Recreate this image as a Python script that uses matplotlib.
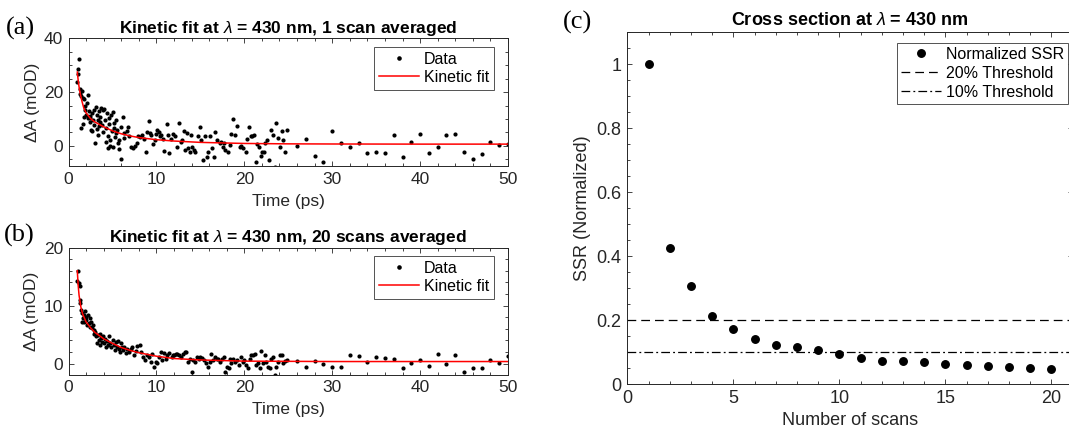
import numpy as np
import matplotlib
matplotlib.use("Agg")
import matplotlib.pyplot as plt
from matplotlib.ticker import MultipleLocator

plt.rcParams["font.family"] = ["Liberation Sans", "DejaVu Sans"]
plt.rcParams["mathtext.fontset"] = "custom"
plt.rcParams["mathtext.rm"] = "Liberation Sans"
plt.rcParams["mathtext.it"] = "Liberation Sans:italic"
plt.rcParams["mathtext.bf"] = "Liberation Sans:bold"

# ---------------- data ----------------
# (a) single scan: time (ps) and dA (mOD)
t_a = [1.15, 1.07, 1.0, 1.07, 1.34, 1.26, 1.45, 1.57, 1.68, 1.41, 1.6, 1.79, 1.91, 1.72, 1.95, 1.83,
       2.18, 2.1, 2.29, 2.18, 2.41, 2.48, 2.56, 2.67, 2.79, 2.86, 2.94, 2.71, 2.98, 2.48,
       3.13, 3.24, 3.32, 3.44, 3.51, 3.63, 3.74, 3.82, 3.89, 3.55, 3.21, 3.93, 3.4,
       4.01, 4.2, 4.31, 4.39, 4.47, 4.58, 4.66, 4.73, 4.85, 4.92, 4.77, 4.24, 4.54,
       5.08, 5.15, 5.23, 5.34, 5.46, 5.53, 5.61, 5.73, 5.8, 5.92, 5.95, 5.38, 5.08,
       6.15, 6.26, 6.37, 6.6, 6.76, 6.91,
       7.14, 7.33, 7.56, 7.75, 7.9,
       8.13, 8.4, 8.59, 8.78, 8.97,
       9.16, 9.27, 9.43, 9.62, 9.81, 9.96,
       10.1, 10.27, 10.42, 10.57, 10.73, 10.92,
       11.15, 11.3, 11.45, 11.65, 11.84,
       12.1, 12.33, 12.6, 12.79, 12.94,
       13.09, 13.28, 13.44, 13.63, 13.82, 13.93,
       14.08, 14.24, 14.43, 14.69, 14.92,
       15.08, 15.34, 15.53, 15.76, 15.92,
       16.15, 16.3, 16.53, 16.72, 16.91,
       17.18, 17.37, 17.56, 17.67, 17.82,
       18.13, 18.32, 18.51, 18.7, 18.89,
       19.2, 19.47, 19.66, 19.81,
       20.15, 20.34, 20.5, 20.73, 20.88,
       21.07, 21.34, 21.49, 21.64, 21.87,
       22.06, 22.25, 22.4, 22.6, 22.79,
       23.09, 23.28, 23.47, 23.63, 23.78,
       24.05, 24.24, 24.43, 24.62, 24.81,
       26, 27, 28, 29, 30, 31, 32, 33, 34, 35, 36, 37, 38, 39, 40,
       41, 42, 43, 44, 45, 46, 47, 48, 49, 50]
dA_a = [32.3, 28.8, 23.8, 26.6, 21.3, 19.4, 18.5, 20.4, 17.8, 6.6, 8.3, 17.3, 13.5, 10.8, 11.6, 14.8,
        19.1, 16.0, 12.9, 10.4, 11.3, 8.75, 6.0, 12.3, 9.75, 7.9, 13.5, 5.4, 1.25, 10.4,
        14.5, 11.6, 9.75, 7.25, 12.9, 10.8, 14.1, 7.9, 5.0, 8.75, 6.25, 13.5, 4.1,
        13.75, 9.5, 6.6, 12.25, 3.5, 10.4, 8.25, 0.1, 11.6, 5.4, 2.25, 1.6, -0.9,
        12.5, 8.5, 6.6, 3.25, 9.75, 6.0, 1.25, -1.25, 2.25, 6.9, -5.0, 4.75, -0.25,
        10.75, 4.75, 2.9, 5.4, 7.0, 3.5,
        -0.25, -0.9, 0.1, 1.25, 3.5,
        3.25, 4.1, 2.5, -2.1, 5.0,
        9.1, 4.75, 4.1, 0.75, 2.25, 4.5,
        6.0, 5.0, 3.75, 4.1, 2.5, -1.75,
        8.25, 4.1, -2.75, 2.5, 4.5,
        3.5, -0.25, 8.5, 1.6, 2.25,
        5.4, -1.5, 4.75, -0.9, -2.1, 4.1,
        -0.25, -1.5, -2.1, 3.5, 7.0,
        2.25, -5.25, 3.5, -4.0, -2.1,
        3.75, -0.9, -4.0, 5.0, 2.25,
        1.25, 1.6, -0.25, 1.0, -1.5,
        -2.4, 0.4, 4.4, 10.0, 4.1,
        7.25, -0.25, 0.0, -0.9,
        -2.1, 2.5, 6.9, 3.5, 3.75,
        4.1, -6.1, 0.75, -0.25, -3.75,
        -2.1, -2.1, 1.25, 2.25, -5.25,
        6.0, 4.1, -7.75, 8.5, 2.9,
        -0.25, 5.4, 2.25, -2.1, 6.0,
        0.0, 2.5, -3.6, -6.1, 5.4, 0.9, -0.25, 1.25, -2.5, -2.1, -2.6, 4.1, -4.0, 1.4, 4.4,
        -2.5, -0.5, 4.0, 4.6, -2.1, -5.0, -3.1, 1.4, 0.5, 0.6]

# (a) kinetic fit
tfit_a = [1.0, 1.1, 1.2, 1.3, 1.5, 1.75, 2.0, 2.5, 3.0, 3.5, 4.0, 5.0, 6.0, 7.0, 8.0,
          10.0, 12.0, 15.0, 20.0, 25.0, 30.0, 40.0, 50.0]
fit_a = [27.5, 24.5, 22.0, 20.0, 17.0, 14.0, 12.3, 10.2, 8.9, 8.0, 7.1, 5.6, 4.5, 3.7, 3.1,
         2.3, 1.8, 1.3, 0.9, 0.75, 0.7, 0.65, 0.65]

# (b) 20 scans averaged
t_b = [0.99, 1.07, 1.18, 1.26, 1.26, 1.34, 1.41, 1.49, 1.56, 1.64, 1.72, 1.79, 1.87, 1.95,
       2.02, 2.1, 2.18, 2.29, 2.4, 2.48, 2.56, 2.67, 2.79, 2.86, 2.94,
       3.05, 3.17, 3.24, 3.36, 3.47, 3.55, 3.63, 3.74, 3.85, 3.93,
       4.08, 4.2, 4.31, 4.43, 4.54, 4.66, 4.77, 4.89,
       5.08, 5.15, 5.27, 5.38, 5.53, 5.61, 5.73, 5.84, 5.95,
       6.11, 6.22, 6.37, 6.53, 6.68, 6.87,
       7.06, 7.25, 7.44, 7.63, 7.82,
       8.13, 8.28, 8.51, 8.66, 8.89,
       9.16, 9.35, 9.54, 9.73, 9.92,
       10.11, 10.31, 10.5, 10.69, 10.88,
       11.07, 11.26, 11.45, 11.72, 11.87,
       12.02, 12.21, 12.4, 12.6, 12.79,
       13.02, 13.21, 13.4, 13.63, 13.85,
       14.01, 14.2, 14.43, 14.62, 14.85,
       15.0, 15.23, 15.46, 15.65, 15.84,
       16.07, 16.22, 16.45, 16.68, 16.91,
       17.06, 17.21, 17.44, 17.67, 17.82,
       18.05, 18.21, 18.36, 18.51, 18.7,
       18.89, 19.12, 19.35, 19.58, 19.81,
       19.96, 20.15, 20.42, 20.61, 20.8,
       20.99, 21.18, 21.37, 21.56, 21.76,
       21.95, 22.14, 22.33, 22.52, 22.71,
       22.9, 23.09, 23.28, 23.47, 23.66,
       23.85, 24.05, 24.24, 24.43, 24.62, 24.85,
       26, 27, 28, 29, 30, 31, 32, 33, 34, 35, 36, 37, 38, 39, 40,
       41, 42, 43, 44, 45, 46, 47, 48, 49, 50]
dA_b = [14.3, 15.9, 13.9, 13.3, 11.0, 10.4, 9.3, 7.2, 8.7, 7.8, 8.4, 7.1, 9.0, 7.5,
        8.1, 6.7, 8.4, 7.0, 7.8, 6.4, 7.2, 6.1, 6.7, 5.2, 5.8,
        5.5, 4.7, 3.5, 4.9, 4.1, 5.2, 3.2, 4.4, 3.8, 4.8,
        3.5, 4.3, 2.9, 3.9, 3.2, 4.7, 3.5, 2.8,
        4.1, 3.2, 2.4, 3.8, 2.9, 3.9, 2.6, 2.1, 3.5,
        2.9, 2.4, 2.9, 1.8, 2.6, 2.1,
        2.5, 2.9, 1.5, 2.2, 3.1,
        3.2, 2.1, 1.2, 0.6, 1.5,
        1.2, 0.3, 1.6, -0.5, 0.3,
        0.1, 1.2, 2.1, 0.6, 1.8,
        0.9, 1.5, 1.8, 1.2, 1.5,
        1.5, 1.6, 1.6, 1.5, 1.2,
        1.6, 2.1, 2.0, 0.3, 0.8,
        -1.4, 0.6, 0.3, 1.2, 0.9,
        1.2, 1.0, 0.6, 0.1, -0.5,
        0.3, 1.6, 0.6, 1.2, 0.8,
        0.9, 0.3, 0.9, 1.2, -1.4,
        -0.5, -0.8, 0.9, 0.1, 0.8,
        0.3, 0.6, -0.2, 1.2, 0.3,
        0.6, -0.2, -0.8, 0.8, 1.5,
        1.5, 1.6, -0.2, 0.2, -0.8,
        2.2, 0.1, 1.5, 0.3, -0.5,
        -0.8, 0.9, 1.2, -2.0, -0.5,
        0.3, 1.5, 1.5, 0.1, 0.5, 0.6,
        0.46, -0.57, 0.46, -0.06, -0.57, -0.57, 1.5, 1.4, 0.35, 1.15, 1.0, 0.8, -0.7, 0.17, 0.7,
        -0.4, 1.67, -0.06, 1.44, -1.38, -0.7, -0.8, 0.63, 0.17, 1.4]

# (b) kinetic fit
tfit_b = [1.0, 1.1, 1.2, 1.4, 1.6, 2.0, 2.5, 3.0, 4.0, 5.0, 6.0, 7.0, 8.0, 10.0, 12.0,
          15.0, 20.0, 30.0, 50.0]
fit_b = [16.0, 13.5, 11.8, 9.8, 8.6, 7.2, 6.2, 5.4, 4.3, 3.5, 2.8, 2.3, 1.9, 1.3, 0.9,
         0.65, 0.45, 0.38, 0.38]

# (c) normalized SSR vs number of scans
n_scans = list(range(1, 21))
ssr = [1.0, 0.4245, 0.308, 0.214, 0.172, 0.1426, 0.124, 0.1155, 0.108, 0.0937,
       0.081, 0.074, 0.073, 0.070, 0.0645, 0.0614, 0.057, 0.054, 0.050, 0.047]
thresh_20 = 0.2
thresh_10 = 0.1

# ---------------- drawing ----------------
AX_COL = "#262626"
W, H = 1069, 436
fig = plt.figure(figsize=(W / 100, H / 100), dpi=100)


def box(l, t, r, b):
    return [l / W, 1 - b / H, (r - l) / W, (b - t) / H]


def style_axes(ax, fs):
    for s in ax.spines.values():
        s.set_color(AX_COL)
        s.set_linewidth(0.7)
    ax.tick_params(which="both", direction="in", top=True, right=True,
                   colors=AX_COL, labelcolor=AX_COL, labelsize=fs, width=0.6)
    ax.tick_params(which="major", length=3.5, pad=4)
    ax.tick_params(which="minor", length=2)


def corner_anchor(ax, dx_px, dy_px):
    # legend anchor inset from the upper-right corner by a fixed pixel offset
    bb = ax.get_position()
    return (1 - dx_px / (bb.width * W), 1 - dy_px / (bb.height * H))


def kinetic_panel(ax, t, d, tf, f, ylim, ymajor, yminor, title):
    ax.plot(t, d, linestyle="none", marker="o", markersize=3.0, color="black",
            markeredgewidth=0, label="Data")
    ax.plot(tf, f, color="red", linewidth=1.1, label="Kinetic fit")
    ax.set_xlim(0, 50)
    ax.set_ylim(*ylim)
    ax.xaxis.set_major_locator(MultipleLocator(10))
    ax.xaxis.set_minor_locator(MultipleLocator(2))
    ax.yaxis.set_major_locator(MultipleLocator(ymajor))
    ax.yaxis.set_minor_locator(MultipleLocator(yminor))
    style_axes(ax, 12.5)
    ax.set_xlabel("Time (ps)", fontsize=12.5, color=AX_COL, labelpad=5)
    ax.set_ylabel("\u0394A (mOD)", fontsize=12.5, color=AX_COL, labelpad=3)
    ax.set_title(title, fontsize=12.5, fontweight="bold", color="black", pad=4)
    leg = ax.legend(loc="upper right", bbox_to_anchor=corner_anchor(ax, 14, 8.5),
                    borderaxespad=0, fontsize=11.5, frameon=True, fancybox=False,
                    edgecolor=AX_COL, handlelength=2.5, handletextpad=0.3,
                    borderpad=0.3, labelspacing=0.2, markerscale=1.1)
    leg.get_frame().set_linewidth(0.7)


ax_a = fig.add_axes(box(68.5, 38.5, 508, 166))
kinetic_panel(ax_a, t_a, dA_a, tfit_a, fit_a, (-7.5, 40), 20, 5,
              r"Kinetic fit at $\lambda$ = 430 nm, 1 scan averaged")

ax_b = fig.add_axes(box(68.5, 247.5, 508, 374.5))
kinetic_panel(ax_b, t_b, dA_b, tfit_b, fit_b, (-1.85, 20), 10, 2,
              r"Kinetic fit at $\lambda$ = 430 nm, 20 scans averaged")

# (c)
ax_c = fig.add_axes(box(627.3, 32.3, 1072.5, 384.3))
ax_c.plot(n_scans, ssr, linestyle="none", marker="o", markersize=5.4, color="black",
          label="Normalized SSR")
ax_c.axhline(thresh_20, color="black", linestyle=(0, (7, 4)), linewidth=0.9,
             label="20% Threshold")
ax_c.axhline(thresh_10, color="black", linestyle=(0, (7, 2.5, 1.5, 2.5)), linewidth=0.9,
             label="10% Threshold")
ax_c.set_xlim(0, 21)
ax_c.set_ylim(0, 1.1)
ax_c.xaxis.set_major_locator(MultipleLocator(5))
ax_c.xaxis.set_minor_locator(MultipleLocator(1))
ax_c.yaxis.set_major_locator(MultipleLocator(0.2))
ax_c.yaxis.set_minor_locator(MultipleLocator(0.05))
ax_c.set_yticks([0, 0.2, 0.4, 0.6, 0.8, 1.0])
ax_c.set_yticklabels(["0", "0.2", "0.4", "0.6", "0.8", "1"])
style_axes(ax_c, 13)
ax_c.set_xlabel("Number of scans", fontsize=13, color=AX_COL, labelpad=4)
ax_c.set_ylabel("SSR (Normalized)", fontsize=13, color=AX_COL, labelpad=4)
ax_c.set_title(r"Cross section at $\lambda$ = 430 nm", fontsize=13, fontweight="bold",
               color="black", pad=5)
leg_c = ax_c.legend(loc="upper right", bbox_to_anchor=corner_anchor(ax_c, 4.5, 10.5),
                    borderaxespad=0, fontsize=11.5, frameon=True, fancybox=False,
                    edgecolor=AX_COL, handlelength=2.5, handletextpad=0.3,
                    borderpad=0.25, labelspacing=0.25)
leg_c.get_frame().set_linewidth(0.7)

# panel letters
for txt, x, y in [("(a)", 6, 28), ("(b)", 4, 235), ("(c)", 563, 22)]:
    fig.text(x / W, 1 - y / H, txt, fontsize=19, family="Liberation Serif",
             color="black", va="center", ha="left")

fig.savefig("out.png", dpi=100)
